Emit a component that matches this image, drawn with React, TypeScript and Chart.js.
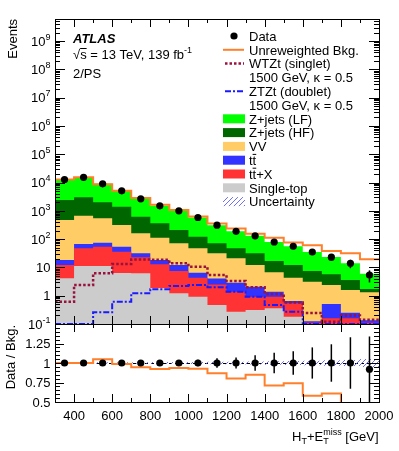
import React, { useEffect, useRef } from 'react';
import { Chart, registerables } from 'chart.js';

Chart.register(...registerables);

// ---------------- data ----------------
const binEdges = [300, 400, 500, 600, 700, 800, 900, 1000, 1100, 1200, 1300, 1400, 1500, 1600, 1700, 1800, 1900, 2000];
const binCenters = [350, 450, 550, 650, 750, 850, 950, 1050, 1150, 1250, 1350, 1450, 1550, 1650, 1750, 1850, 1950];

const singleTop = [4.1, 11.2, 11.2, 6.3, 6.2, 1.87, 1.22, 0.92, 0.47, 0.27, 0.31, 0.36, 0.18, 0, 0, 0, 0];
const ttbarX = [8.1, 36.1, 42.7, 29.6, 16.5, 11.0, 6.3, 3.4, 2.0, 1.11, 0.61, 0.56, 0.36, 0.11, 0.16, 0.16, 0.11];
const ttbar = [6.0, 19.7, 20.7, 18.0, 8.8, 5.3, 4.7, 2.2, 1.6, 1.5, 1.16, 0.46, 0.11, 0.015, 0.35, 0.09, 0.027];
const diboson = [455, 604, 468, 261, 128, 94, 59, 40.8, 27.4, 18.1, 10.1, 5.3, 3.65, 2.97, 1.88, 1.34, 1.18];
const zjetsHF = [1940, 2330, 1450, 1080, 459, 250, 139, 75, 39.5, 26.3, 19.3, 10.1, 7.9, 4.4, 3.3, 2.0, 0.41];
const zjetsLF = [10400, 12300, 7000, 3700, 2040, 1140, 790, 458, 239, 142, 99.5, 62, 43.5, 27.5, 17.6, 10.4, 4.2];

const dataEvents = [12800, 15300, 9000, 5090, 2650, 1500, 1000, 580, 310, 189, 131, 79, 56, 35, 23, 14, 5.4];
const wtztSinglet = [0.61, 2.4, 6.2, 13.2, 19, 18.5, 14, 10.6, 5.4, 3.3, 2.0, 1.15, 0.57, 0.245, 0.12, 0.2, 0.14];
const ztztDoublet = [0.1, 0.1, 0.26, 0.61, 1.22, 1.68, 2.2, 2.39, 1.98, 1.38, 0.92, 0.47, 0.27, 0.1, 0.1, 0.1, 0.1];

const dataRatio = [1, 1, 1, 1, 1, 1, 1, 1, 1, 1, 1, 1, 1, 1, 1, 1, 0.92];
const dataRatioErr = [0.01, 0.01, 0.012, 0.016, 0.022, 0.028, 0.033, 0.043, 0.06, 0.07, 0.1, 0.13, 0.15, 0.2, 0.24, 0.33, 0.42];
const unreweightedRatio = [1.0, 1.0, 1.047, 0.987, 0.944, 0.922, 0.935, 0.927, 0.87, 0.8, 0.85, 0.71, 0.74, 0.58, 0.61, 0.44, 0.28];
const bkgUncertainty = [0.008, 0.008, 0.009, 0.01, 0.01, 0.012, 0.012, 0.014, 0.015, 0.017, 0.02, 0.022, 0.025, 0.03, 0.035, 0.04, 0.05];

const logExponents = [-1, 0, 1, 2, 3, 4, 5, 6, 7, 8, 9];
const xTickLabels = [400, 600, 800, 1000, 1200, 1400, 1600, 1800, 2000];
const ratioTickLabels = [0.5, 0.75, 1, 1.25];

const stackNames = ['Single-top', 'ttX', 'tt', 'VV', 'Z+jets (HF)', 'Z+jets (LF)'];
const stackColors = ['#cccccc', '#ff3333', '#3333ff', '#ffcc66', '#006600', '#00ff00'];
const COL_UNREW = '#ff7f2a';
const COL_WTZT = '#99113d';
const COL_ZTZT = '#1a1aff';
const COL_HATCH = '#5c5cff';

// ---------------- helpers ----------------
const FONT_FAMILY = '"Liberation Sans", Arial, Helvetica, sans-serif';
const font = (size, style = '') => `${style} ${size}px ${FONT_FAMILY}`.trim();
const snap = (v) => Math.round(v) + 0.5;

function line(ctx, x1, y1, x2, y2) {
  ctx.beginPath();
  ctx.moveTo(x1, y1);
  ctx.lineTo(x2, y2);
  ctx.stroke();
}

function partsWidth(ctx, parts) {
  let w = 0;
  for (const p of parts) {
    ctx.font = font(p.size || 13, p.style || '');
    let pw = ctx.measureText(p.t).width;
    if (p.stackSub !== undefined) pw = Math.max(pw, ctx.measureText(p.stackSub).width);
    w += pw;
  }
  return w;
}

function drawParts(ctx, parts, x, baseline, align = 'left') {
  ctx.textAlign = 'left';
  ctx.textBaseline = 'alphabetic';
  const total = partsWidth(ctx, parts);
  let cx = align === 'right' ? x - total : align === 'center' ? x - total / 2 : x;
  for (const p of parts) {
    ctx.font = font(p.size || 13, p.style || '');
    const w = ctx.measureText(p.t).width;
    ctx.fillText(p.t, cx, baseline + (p.dy || 0));
    let adv = w;
    if (p.stackSub !== undefined) {
      const sw = ctx.measureText(p.stackSub).width;
      ctx.fillText(p.stackSub, cx, baseline + 3);
      adv = Math.max(w, sw);
    }
    if (p.bar) {
      ctx.save();
      ctx.lineWidth = 1;
      ctx.strokeStyle = '#000';
      line(ctx, cx, baseline - 10.5, cx + w, baseline - 10.5);
      ctx.restore();
    }
    cx += adv;
  }
}

function makeHatch(color) {
  const c = document.createElement('canvas');
  c.width = 5;
  c.height = 5;
  const g = c.getContext('2d');
  g.strokeStyle = color;
  g.lineWidth = 0.9;
  g.beginPath();
  g.moveTo(0, 5);
  g.lineTo(5, 0);
  g.moveTo(-2.5, 2.5);
  g.lineTo(2.5, -2.5);
  g.moveTo(2.5, 7.5);
  g.lineTo(7.5, 2.5);
  g.stroke();
  return g.createPattern(c, 'repeat');
}

const positive = (v) => (v > 0 ? v : 1e-6);
const stepPoints = (vals, log = false) =>
  binEdges.map((x, i) => {
    const v = vals[Math.min(i, vals.length - 1)];
    return { x, y: log ? positive(v) : v };
  });

function powerParts(e) {
  if (e === 0) return [{ t: '1' }];
  if (e === 1) return [{ t: '10' }];
  return [{ t: '10' }, { t: String(e), size: 9, dy: -6 }];
}

function drawXTicks(ctx, xs, top, bottom, both = true) {
  for (const v of binEdges) {
    if (v <= xs.min || v >= xs.max) continue;
    const px = snap(xs.getPixelForValue(v));
    const len = v % 200 === 0 ? 8 : 4;
    line(ctx, px, bottom, px, bottom - len);
    if (both) line(ctx, px, top, px, top + len);
  }
}

// ---------------- main panel ----------------
function mainConfig(hatch) {
  const components = [singleTop, ttbarX, ttbar, diboson, zjetsHF, zjetsLF];
  const cumulative = [];
  let acc = binCenters.map(() => 0);
  for (const comp of components) {
    acc = acc.map((a, i) => a + comp[i]);
    cumulative.push(acc);
  }
  const stackSets = cumulative.map((vals, i) => ({
    label: stackNames[i],
    data: stepPoints(vals, true),
    stepped: 'before',
    fill: 'start',
    backgroundColor: stackColors[i],
    borderColor: 'rgba(0,0,0,0)',
    borderWidth: 0,
    pointRadius: 0,
    order: 20 + i,
  }));
  const unreweighted = dataEvents.map((d, i) => d / unreweightedRatio[i]);

  const datasets = [
    ...stackSets,
    {
      label: 'Unreweighted Bkg.',
      data: stepPoints(unreweighted, true),
      stepped: 'before',
      fill: false,
      borderColor: COL_UNREW,
      borderWidth: 2,
      pointRadius: 0,
      order: 3,
    },
    {
      label: 'WTZt (singlet)',
      data: stepPoints(wtztSinglet, true),
      stepped: 'before',
      fill: false,
      borderColor: COL_WTZT,
      borderWidth: 2.5,
      borderDash: [2.5, 2],
      pointRadius: 0,
      order: 2,
    },
    {
      label: 'ZTZt (doublet)',
      data: stepPoints(ztztDoublet, true),
      stepped: 'before',
      fill: false,
      borderColor: COL_ZTZT,
      borderWidth: 2,
      borderDash: [6, 2, 2, 2],
      pointRadius: 0,
      order: 2,
    },
    {
      label: 'Data',
      data: binCenters.map((x, i) => ({ x, y: dataEvents[i] })),
      showLine: false,
      pointRadius: 3.6,
      pointBackgroundColor: '#000',
      pointBorderColor: '#000',
      pointBorderWidth: 0,
      order: 0,
    },
  ];

  const decor = {
    id: 'mainDecor',
    afterDatasetsDraw(chart) {
      const ctx = chart.ctx;
      const { left, right, top, bottom } = chart.chartArea;
      const xs = chart.scales.x;
      const ys = chart.scales.y;
      ctx.save();
      ctx.beginPath();
      ctx.rect(left, top, right - left, bottom - top);
      ctx.clip();
      ctx.strokeStyle = '#000';
      ctx.lineWidth = 1.5;
      binCenters.forEach((x, i) => {
        const err = (dataEvents[i] * dataRatioErr[i]) / dataRatio[i];
        const px = xs.getPixelForValue(x);
        const y1 = ys.getPixelForValue(dataEvents[i] + err);
        const lo = dataEvents[i] - err;
        const y2 = lo > 0 ? ys.getPixelForValue(lo) : bottom;
        line(ctx, px, y1, px, y2);
      });
      ctx.restore();
    },
    afterDraw(chart) {
      const ctx = chart.ctx;
      const { left, right, top, bottom } = chart.chartArea;
      const xs = chart.scales.x;
      const ys = chart.scales.y;
      ctx.save();
      ctx.strokeStyle = '#000';
      ctx.fillStyle = '#000';
      ctx.lineWidth = 1;
      ctx.strokeRect(snap(left), snap(top), Math.round(right - left), Math.round(bottom - top));
      // y ticks
      for (const e of logExponents) {
        for (let m = 1; m <= 9; m++) {
          const v = m * Math.pow(10, e);
          if (v < ys.min * 0.999 || v > ys.max) continue;
          const py = snap(ys.getPixelForValue(v));
          const len = m === 1 ? 10 : 5;
          line(ctx, left, py, left + len, py);
          line(ctx, right, py, right - len, py);
        }
      }
      drawXTicks(ctx, xs, top, bottom, true);
      // y labels
      for (const e of logExponents) {
        const py = ys.getPixelForValue(Math.pow(10, e));
        drawParts(ctx, powerParts(e), 50.5, py + 4.7, 'right');
      }
      // y title
      ctx.save();
      ctx.translate(17, top);
      ctx.rotate(-Math.PI / 2);
      ctx.font = font(13);
      ctx.textAlign = 'right';
      ctx.textBaseline = 'alphabetic';
      ctx.fillText('Events', 0, 0);
      ctx.restore();
      // ATLAS labels
      drawParts(ctx, [{ t: 'ATLAS', style: 'italic bold' }], 73, 43);
      drawParts(ctx, [{ t: '√' }, { t: 's', bar: true }, { t: ' = 13 TeV, 139 fb' }, { t: '-1', size: 9, dy: -6 }], 73, 59);
      drawParts(ctx, [{ t: '2/PS' }], 73, 78);
      // legend
      const rowY = (i) => 36 + i * 13.8;
      const lx0 = 223;
      const lx1 = 244;
      const tx = 249;
      const legendText = [
        [{ t: 'Data' }],
        [{ t: 'Unreweighted Bkg.' }],
        [{ t: 'WTZt (singlet)' }],
        [{ t: '1500 GeV, κ = 0.5' }],
        [{ t: 'ZTZt (doublet)' }],
        [{ t: '1500 GeV, κ = 0.5' }],
        [{ t: 'Z+jets (LF)' }],
        [{ t: 'Z+jets (HF)' }],
        [{ t: 'VV' }],
        [{ t: 't' }, { t: 't', bar: true }],
        [{ t: 't' }, { t: 't', bar: true }, { t: '+X' }],
        [{ t: 'Single-top' }],
        [{ t: 'Uncertainty' }],
      ];
      legendText.forEach((parts, i) => drawParts(ctx, parts, tx, rowY(i) + 4.7));
      // markers
      ctx.beginPath();
      ctx.arc(234, rowY(0), 3.6, 0, Math.PI * 2);
      ctx.fill();
      ctx.lineWidth = 2;
      ctx.strokeStyle = COL_UNREW;
      line(ctx, lx0, rowY(1), lx1, rowY(1));
      ctx.strokeStyle = COL_WTZT;
      ctx.lineWidth = 2.5;
      ctx.setLineDash([2.5, 2]);
      line(ctx, lx0 + 2, rowY(2), lx1, rowY(2));
      ctx.strokeStyle = COL_ZTZT;
      ctx.lineWidth = 2;
      ctx.setLineDash([6, 2, 2, 2]);
      line(ctx, lx0 + 2, rowY(4), lx1, rowY(4));
      ctx.setLineDash([]);
      const boxOrder = [5, 4, 3, 2, 1, 0];
      boxOrder.forEach((ci, k) => {
        ctx.fillStyle = stackColors[ci];
        ctx.fillRect(lx0, rowY(6 + k) - 4.5, 22, 9);
      });
      ctx.fillStyle = hatch;
      ctx.fillRect(lx0, rowY(12) - 4.5, 22, 9);
      ctx.restore();
    },
  };

  return {
    type: 'line',
    data: { datasets },
    options: {
      responsive: false,
      animation: false,
      devicePixelRatio: 1,
      events: [],
      layout: { padding: { left: 55, right: 20, top: 19, bottom: 127 } },
      plugins: { legend: { display: false }, tooltip: { enabled: false } },
      scales: {
        x: { type: 'linear', min: 300, max: 2000, display: false },
        y: { type: 'logarithmic', min: 0.1, max: 6e9, display: false },
      },
    },
    plugins: [decor],
  };
}

// ---------------- ratio panel ----------------
function ratioConfig(hatch) {
  const datasets = [
    {
      label: 'unc-up',
      data: stepPoints(bkgUncertainty.map((u) => 1 + u)),
      stepped: 'before',
      fill: '+1',
      backgroundColor: hatch,
      borderColor: 'rgba(0,0,0,0)',
      borderWidth: 0,
      pointRadius: 0,
      order: 10,
    },
    {
      label: 'unc-down',
      data: stepPoints(bkgUncertainty.map((u) => 1 - u)),
      stepped: 'before',
      fill: false,
      borderColor: 'rgba(0,0,0,0)',
      borderWidth: 0,
      pointRadius: 0,
      order: 11,
    },
    {
      label: 'unreweighted',
      data: stepPoints(unreweightedRatio),
      stepped: 'before',
      fill: false,
      borderColor: COL_UNREW,
      borderWidth: 2,
      pointRadius: 0,
      order: 2,
    },
    {
      label: 'data',
      data: binCenters.map((x, i) => ({ x, y: dataRatio[i] })),
      showLine: false,
      pointRadius: 3.6,
      pointBackgroundColor: '#000',
      pointBorderColor: '#000',
      pointBorderWidth: 0,
      order: 0,
    },
  ];

  const decor = {
    id: 'ratioDecor',
    beforeDatasetsDraw(chart) {
      const ctx = chart.ctx;
      const { left, right } = chart.chartArea;
      const py = chart.scales.y.getPixelForValue(1);
      ctx.save();
      ctx.strokeStyle = '#000';
      ctx.lineWidth = 1;
      ctx.setLineDash([3, 3]);
      line(ctx, left, snap(py), right, snap(py));
      ctx.restore();
    },
    afterDatasetsDraw(chart) {
      const ctx = chart.ctx;
      const { left, right, top, bottom } = chart.chartArea;
      const xs = chart.scales.x;
      const ys = chart.scales.y;
      ctx.save();
      ctx.beginPath();
      ctx.rect(left, top, right - left, bottom - top);
      ctx.clip();
      ctx.strokeStyle = '#000';
      ctx.lineWidth = 1.5;
      binCenters.forEach((x, i) => {
        const px = xs.getPixelForValue(x);
        line(ctx, px, ys.getPixelForValue(dataRatio[i] + dataRatioErr[i]), px, ys.getPixelForValue(dataRatio[i] - dataRatioErr[i]));
      });
      ctx.restore();
    },
    afterDraw(chart) {
      const ctx = chart.ctx;
      const { left, right, top, bottom } = chart.chartArea;
      const xs = chart.scales.x;
      const ys = chart.scales.y;
      ctx.save();
      ctx.strokeStyle = '#000';
      ctx.fillStyle = '#000';
      ctx.lineWidth = 1;
      ctx.strokeRect(snap(left), snap(top), Math.round(right - left), Math.round(bottom - top));
      for (let i = 0; i <= 20; i++) {
        const v = 0.5 + 0.05 * i;
        const py = snap(ys.getPixelForValue(v));
        const len = i % 5 === 0 ? 9 : 5;
        line(ctx, left, py, left + len, py);
        line(ctx, right, py, right - len, py);
      }
      drawXTicks(ctx, xs, top, bottom, true);
      for (const v of ratioTickLabels) {
        drawParts(ctx, [{ t: String(v) }], 50.5, ys.getPixelForValue(v) + 4.7, 'right');
      }
      for (const v of xTickLabels) {
        drawParts(ctx, [{ t: String(v) }], xs.getPixelForValue(v), 420, 'center');
      }
      drawParts(
        ctx,
        [{ t: 'H' }, { t: 'T', size: 9, dy: 3 }, { t: '+E' }, { t: 'miss', size: 9, dy: -6, stackSub: 'T' }, { t: ' [GeV]' }],
        378.5,
        441,
        'right'
      );
      ctx.save();
      ctx.translate(15, top + 1);
      ctx.rotate(-Math.PI / 2);
      ctx.font = font(13);
      ctx.textAlign = 'right';
      ctx.textBaseline = 'alphabetic';
      ctx.fillText('Data / Bkg.', 0, 0);
      ctx.restore();
      ctx.restore();
    },
  };

  return {
    type: 'line',
    data: { datasets },
    options: {
      responsive: false,
      animation: false,
      devicePixelRatio: 1,
      events: [],
      layout: { padding: { left: 55, right: 20, top: 324, bottom: 49 } },
      plugins: { legend: { display: false }, tooltip: { enabled: false } },
      scales: {
        x: { type: 'linear', min: 300, max: 2000, display: false },
        y: { type: 'linear', min: 0.5, max: 1.5, display: false },
      },
    },
    plugins: [decor],
  };
}

export default function App() {
  const mainRef = useRef(null);
  const ratioRef = useRef(null);
  useEffect(() => {
    const hatch = makeHatch(COL_HATCH);
    const main = new Chart(mainRef.current, mainConfig(hatch));
    const ratio = new Chart(ratioRef.current, ratioConfig(hatch));
    return () => {
      main.destroy();
      ratio.destroy();
    };
  }, []);
  return (
    <div style={{ position: 'absolute', left: 0, top: 0, width: 399, height: 451, background: '#fff' }}>
      <canvas ref={mainRef} width={399} height={451} style={{ position: 'absolute', left: 0, top: 0 }} />
      <canvas ref={ratioRef} width={399} height={451} style={{ position: 'absolute', left: 0, top: 0 }} />
    </div>
  );
}
